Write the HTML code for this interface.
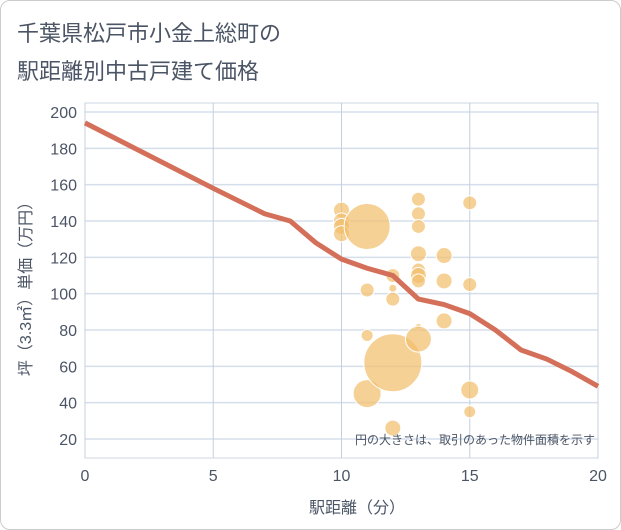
<!DOCTYPE html>
<html><head><meta charset="utf-8"><style>
body{margin:0;background:#fff;font-family:"Liberation Sans","Noto Sans CJK JP",sans-serif}
#wrap{position:relative;width:619px;height:528px;border:1px solid #ccc;border-radius:10px;overflow:hidden}
</style></head><body>
<div id="wrap">
<svg width="621" height="530" id="svg">
<text x="16" y="40" font-size="22" fill="#4b5565" font-family="Liberation Sans,Noto Sans CJK JP,sans-serif">千葉県松戸市小金上総町の</text>
<text x="16" y="78" font-size="22" fill="#4b5565" font-family="Liberation Sans,Noto Sans CJK JP,sans-serif">駅距離別中古戸建て価格</text>
<g id="grid"></g><g id="bubbles"></g><g id="line"></g><g id="axes"></g>
<text x="594" y="443" font-size="12" fill="#4b5565" text-anchor="end" font-family="Liberation Sans,Noto Sans CJK JP,sans-serif">円の大きさは、取引のあった物件面積を示す</text>
<text x="356" y="512" font-size="16" fill="#4b5565" text-anchor="middle" font-family="Liberation Sans,Noto Sans CJK JP,sans-serif">駅距離（分）</text>
<text transform="translate(30,284) rotate(-90)" font-size="16" fill="#4b5565" text-anchor="middle" font-family="Liberation Sans,Noto Sans CJK JP,sans-serif">坪（3.3㎡）単価（万円）</text>
</svg></div>
<script>
const xTicks=[0,5,10,15,20];
const yTicks=[20,40,60,80,100,120,140,160,180,200];
const bubbleX=[10,10,10,10,11,11,11,11,12,12,12,12,12,13,13,13,13,13,13,13,13,13,14,14,14,15,15,15,15];
const bubbleY=[146,140,137,133,137,102,77,45,110,103,97,62,26,152,144,137,122,113,110,107,82,75,121,107,85,150,105,47,35];
const bubbleR=[8,8,8,8,23,7,6,14,7,4,7,29,8,7,7,7,8,7,8,7,3,13,8,8,8,7,7,9,6];
const lineX=[0,5,7,8,9,10,11,12,13,14,15,16,17,18,19,20];
const lineY=[194,158,144,140,128,119,114,110,97,94,89,80,69,64,57,49];
const NS="http://www.w3.org/2000/svg";
const X0=84,X1=597,Y0=457,Ytop=102;
const sx=v=>X0+(v-0)/20*(X1-X0);
const sy=v=>438-(v-20)/180*(438-111);
function mk(t,a,p){const e=document.createElementNS(NS,t);for(const k in a)e.setAttribute(k,a[k]);p.appendChild(e);return e;}
const g=document.getElementById('grid'),ax=document.getElementById('axes');
mk('rect',{x:X0,y:Ytop,width:X1-X0,height:Y0-Ytop,fill:'none',stroke:'#ccd6e3'},g);
yTicks.forEach(v=>{const l=mk('line',{x1:X0,x2:X1,y1:sy(v),y2:sy(v),stroke:'#d5dfec','stroke-width':1.5},g);


const t=mk('text',{x:X0-8,y:sy(v)+6,'font-size':16,fill:'#4b5565','text-anchor':'end'},ax);t.textContent=v;

});
xTicks.forEach(v=>{const l=mk('line',{x1:sx(v),x2:sx(v),y1:Ytop,y2:Y0,stroke:'#c5d0de','stroke-width':1},g);


const t=mk('text',{x:sx(v),y:480,'font-size':16,fill:'#4b5565','text-anchor':'middle'},ax);t.textContent=v;

});
const bg=document.getElementById('bubbles');
bubbleX.forEach((x,i)=>{const c=mk('circle',{cx:sx(x),cy:sy(bubbleY[i]),r:bubbleR[i],fill:'rgba(242,190,105,0.7)',stroke:'#fff','stroke-width':1},bg);

});
const p=mk('polyline',{points:lineX.map((x,i)=>sx(x)+','+sy(lineY[i])).join(' '),fill:'none',stroke:'#d4705a','stroke-width':5,'stroke-linejoin':'round'},document.getElementById('line'));


</script>
</body></html>
